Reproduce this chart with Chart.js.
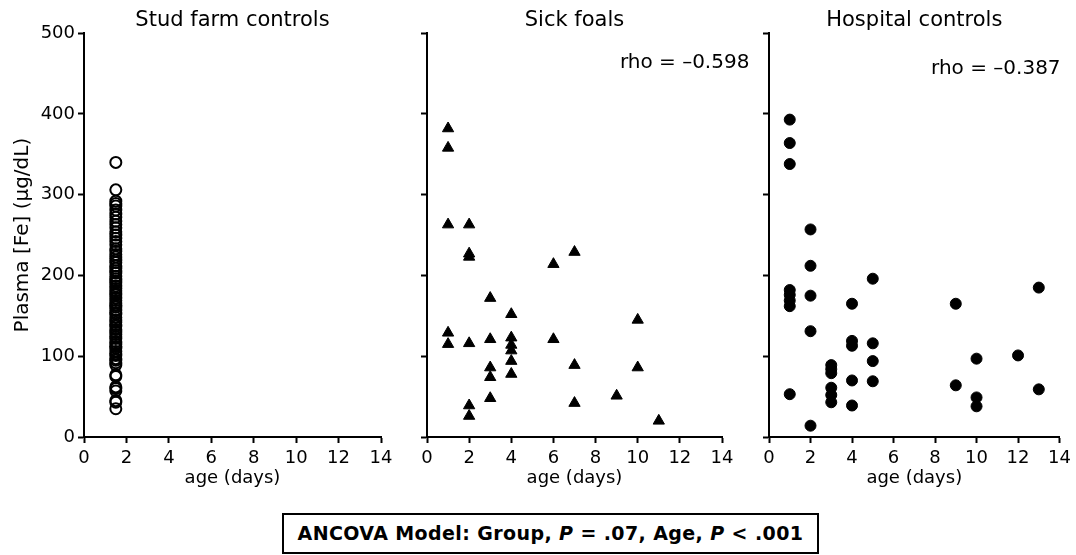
<!DOCTYPE html>
<html>
<head>
<meta charset="utf-8">
<script src="https://cdn.jsdelivr.net/npm/chart.js@4.4.1/dist/chart.umd.min.js"></script>
<style>
  body { margin: 0; width: 1076px; height: 555px; background: #fff; position: relative; overflow: hidden; }
  canvas { position: absolute; top: 0; }
  #ancova {
    position: absolute; left: 282px; top: 513px; width: 537px; height: 41px;
    box-sizing: border-box; border: 2px solid #000;
    font: bold 19px "DejaVu Sans", sans-serif; letter-spacing: 0.4px;
    text-align: center; line-height: 37px; white-space: nowrap; color: #000;
  }
</style>
</head>
<body>
<canvas id="c1" width="400" height="500" style="left:0px"></canvas>
<canvas id="c2" width="355" height="500" style="left:400px"></canvas>
<canvas id="c3" width="321" height="500" style="left:755px"></canvas>
<div id="ancova">ANCOVA Model: Group, <i>P</i> = .07, Age, <i>P</i> &lt; .001</div>

<script>
// tick labels
const xTicks = [0, 2, 4, 6, 8, 10, 12, 14];
const yTicks = [0, 100, 200, 300, 400, 500];

// stud farm controls: all sampled at ~1.5 days
const studAge = 1.5;
const studFe = [340, 306, 292, 289, 286, 281, 276, 272, 267, 263, 259, 254, 250, 246, 242,
  238, 233, 230, 226, 223, 219, 216, 212, 209, 206, 203, 199, 196, 193, 191, 187, 184,
  181, 178, 176, 172, 169, 166, 163, 161, 157, 154, 152, 148, 145, 142, 139, 137, 133,
  130, 127, 124, 122, 118, 115, 112, 110, 106, 103, 101, 97, 95, 92, 89, 77, 75, 62,
  60, 57, 45, 43, 35];

// sick foals
const sickAge = [1, 1, 1, 1, 1, 2, 2, 2, 2, 2, 2, 3, 3, 3, 3, 3, 4, 4, 4, 4, 4, 4, 6, 6, 7, 7, 7, 9, 10, 10, 11];
const sickFe = [382, 358, 263, 129, 115, 263, 227, 223, 116, 39, 26, 172, 121, 86, 74, 48,
  152, 123, 114, 107, 94, 78, 214, 121, 229, 89, 42, 51, 145, 86, 20];

// hospital controls
const hospAge = [1, 1, 1, 1, 1, 1, 1, 1, 2, 2, 2, 2, 2, 3, 3, 3, 3, 3, 3, 4, 4, 4, 4, 4,
  5, 5, 5, 5, 9, 9, 10, 10, 10, 12, 13, 13];
const hospFe = [393, 364, 338, 182, 176, 169, 162, 53, 257, 212, 175, 131, 14, 89, 84, 79,
  61, 52, 43, 165, 119, 113, 70, 39, 196, 116, 94, 69, 165, 64, 97, 49, 38, 101, 185, 59];

const FONT = '"DejaVu Sans", sans-serif';
Chart.defaults.color = '#000';
Chart.defaults.font.family = FONT;

const rhoLabel = {
  id: 'rhoLabel',
  afterDraw(chart, args, o) {
    if (!o.text) return;
    const ctx = chart.ctx;
    ctx.save();
    ctx.font = '20px ' + FONT;
    ctx.fillStyle = '#000';
    ctx.textAlign = 'right';
    ctx.textBaseline = 'middle';
    ctx.fillText(o.text, chart.scales.x.getPixelForValue(o.x), chart.scales.y.getPixelForValue(o.y));
    ctx.restore();
  }
};

function makePanel(id, title, points, style, p) {
  new Chart(document.getElementById(id), {
    type: 'scatter',
    data: {
      datasets: [{
        data: points,
        pointStyle: style.shape,
        pointRadius: style.r,
        pointBorderWidth: style.bw,
        pointBackgroundColor: style.fill,
        pointBorderColor: '#000',
        clip: false
      }]
    },
    options: {
      responsive: false,
      animation: false,
      events: [],
      layout: { padding: { top: 0, left: 0, bottom: 0, right: p.padRight } },
      plugins: {
        legend: { display: false },
        tooltip: { enabled: false },
        title: {
          display: true, text: title, fullSize: false, color: '#000',
          font: { size: 21, weight: 'normal' }, padding: { top: 8, bottom: 0 }
        },
        rhoLabel: p.rho || {}
      },
      scales: {
        x: {
          type: 'linear',
          min: xTicks[0], max: xTicks[xTicks.length - 1],
          afterBuildTicks: (s) => { s.ticks = xTicks.map(v => ({ value: v })); },
          afterFit: (s) => { s.height = 63; },
          border: { color: '#000', width: 2 },
          grid: { drawOnChartArea: false, drawTicks: true, tickLength: 6, tickWidth: 2, color: '#000' },
          ticks: { font: { size: 18 }, padding: 5, maxRotation: 0 },
          title: { display: true, text: 'age (days)', font: { size: 18 }, padding: { top: 0, bottom: 11 } }
        },
        y: {
          type: 'linear',
          min: yTicks[0], max: yTicks[yTicks.length - 1],
          afterBuildTicks: (s) => { s.ticks = yTicks.map(v => ({ value: v })); },
          afterFit: (s) => { s.width = p.yWidth; },
          border: { color: '#000', width: 2 },
          grid: { drawOnChartArea: false, drawTicks: true, tickLength: 6, tickWidth: 2, color: '#000' },
          ticks: {
            font: { size: 18 }, padding: 3,
            callback: (v) => p.yLabels ? v : ''
          },
          title: {
            display: !!p.yTitle, text: p.yTitle || '', font: { size: 20 },
            padding: { top: 11, bottom: 0 }
          }
        }
      }
    },
    plugins: [rhoLabel]
  });
}

makePanel('c1', 'Stud farm controls',
  studFe.map(v => ({ x: studAge, y: v })),
  { shape: 'circle', r: 5.5, bw: 2, fill: 'rgba(0,0,0,0)' },
  { yWidth: 84, padRight: 19, yLabels: true, yTitle: 'Plasma [Fe] (\u00b5g/dL)' });

makePanel('c2', 'Sick foals',
  sickAge.map((a, i) => ({ x: a, y: sickFe[i] })),
  { shape: 'triangle', r: 6.5, bw: 1, fill: '#000' },
  { yWidth: 27, padRight: 33, yLabels: false, rho: { text: 'rho = \u20130.598', x: 15.3, y: 463 } });

makePanel('c3', 'Hospital controls',
  hospAge.map((a, i) => ({ x: a, y: hospFe[i] })),
  { shape: 'circle', r: 5.5, bw: 1, fill: '#000' },
  { yWidth: 14, padRight: 13, yLabels: false, rho: { text: 'rho = \u20130.387', x: 14.05, y: 456 } });
</script>
</body>
</html>
